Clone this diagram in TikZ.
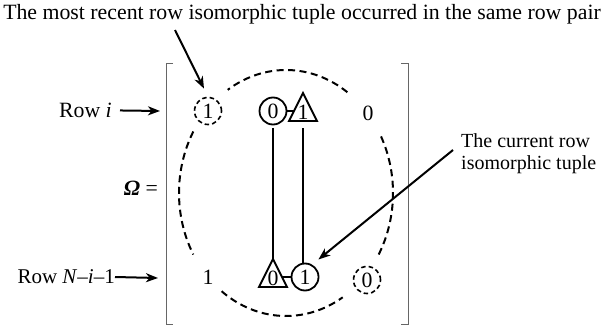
\documentclass[tikz,border=0pt]{standalone}
\usepackage{fontspec}
\setmainfont{Liberation Serif}
\usetikzlibrary{arrows.meta}
\begin{document}
\begin{tikzpicture}[x=1pt,y=1pt,
  every node/.style={font=\fontsize{21.8}{23}\selectfont, inner sep=0pt},
  elem/.style={circle, minimum size=27pt, draw, line width=1.8pt},
  delem/.style={circle, minimum size=27pt, draw, line width=1.6pt, dash pattern=on 4.5pt off 3pt},
  conn/.style={line width=2pt},
  tri/.style={line width=1.9pt, line join=miter},
  ptr/.style={line width=2pt, -{Stealth[length=12pt,width=9pt,inset=3.5pt]}},
  brk/.style={draw=black!60, line width=1pt},
  oval/.style={line width=2pt, dash pattern=on 7pt off 4.5pt},
]
\useasboundingbox (0,0) rectangle (604,-326);

% labels
\node (top) at (302,-14) {The most recent row isomorphic tuple occurred in the same row pair};
\node[anchor=west, align=left, font=\fontsize{20}{22}\selectfont] (cur) at (461,-154) {The current row\\isomorphic tuple};
\node[anchor=east] (rowi) at (112,-110) {Row \textit{i}};
\node[anchor=east, font=\fontsize{21}{23}\selectfont] (rown) at (115,-277) {Row \textit{N}–\textit{i}–1};
\node[anchor=east] (omega) at (158,-188) {{\bfseries\itshape Ω} =};

% brackets
\coordinate (bl) at (166,-64);
\coordinate (br) at (408,-64);
\draw[brk] ([xshift=7pt]bl) -- (bl) -- (166,-324) -- ++(7,0);
\draw[brk] ([xshift=-7pt]br) -- (br) -- (408,-324) -- ++(-7,0);

% dashed oval
\coordinate (oc) at (286,-193);
\draw[oval] (oc) ++(55:107pt and 123pt) arc[start angle=55, end angle=123, x radius=107pt, y radius=123pt];
\draw[oval] (oc) ++(150:107pt and 123pt) arc[start angle=150, end angle=210, x radius=107pt, y radius=123pt];
\draw[oval] (oc) ++(233:107pt and 123pt) arc[start angle=233, end angle=302, x radius=107pt, y radius=123pt];
\draw[oval] (oc) ++(-30:107pt and 123pt) arc[start angle=-30, end angle=29, x radius=107pt, y radius=123pt];

% top row
\node[delem] (d1) at (208,-111) {1};
\node[elem] (c0) at (273,-111) {0};
\node (t1) at (303,-112) {1};
\node (p0) at (368,-113) {0};
\draw[tri] ([shift={(0,19)}]t1.center) -- ([shift={(-14,-9)}]t1.center) -- ([shift={(14,-9)}]t1.center) -- cycle;
\coordinate (t1w) at ([shift={(-9.5,1)}]t1.center);
\coordinate (t1s) at ([shift={(0,-9)}]t1.center);

% bottom row
\node (p1) at (208,-277) {1};
\node (t0) at (273,-278) {0};
\node[elem] (cb1) at (305,-277) {1};
\node[delem] (d0) at (367,-280) {0};
\draw[tri] ([shift={(0,19)}]t0.center) -- ([shift={(-14,-9)}]t0.center) -- ([shift={(14,-9)}]t0.center) -- cycle;
\coordinate (t0n) at ([shift={(0,19)}]t0.center);
\coordinate (t0e) at ([shift={(9,1)}]t0.center);

% connectors
\draw[conn] (c0) -- (t1w);
\draw[conn] (t0e) -- (cb1);
\draw[conn, shorten <=2.5pt] (c0) -- (t0n);
\draw[conn, shorten <=7pt] (t1s) -- (t1s |- cb1.north);

% pointers
\coordinate (a1) at (175,-30);
\draw[ptr, shorten >=9pt] (a1) -- (d1.north);
\coordinate (a2) at (453,-150);
\draw[ptr, shorten >=8pt] (a2) -- (cb1.60);
\coordinate (ri) at (160,-111);
\draw[ptr, shorten <=8pt] (rowi) -- (ri);
\coordinate (rn) at (158,-278);
\draw[ptr] (rown.east) -- (rn);
\end{tikzpicture}
\end{document}
